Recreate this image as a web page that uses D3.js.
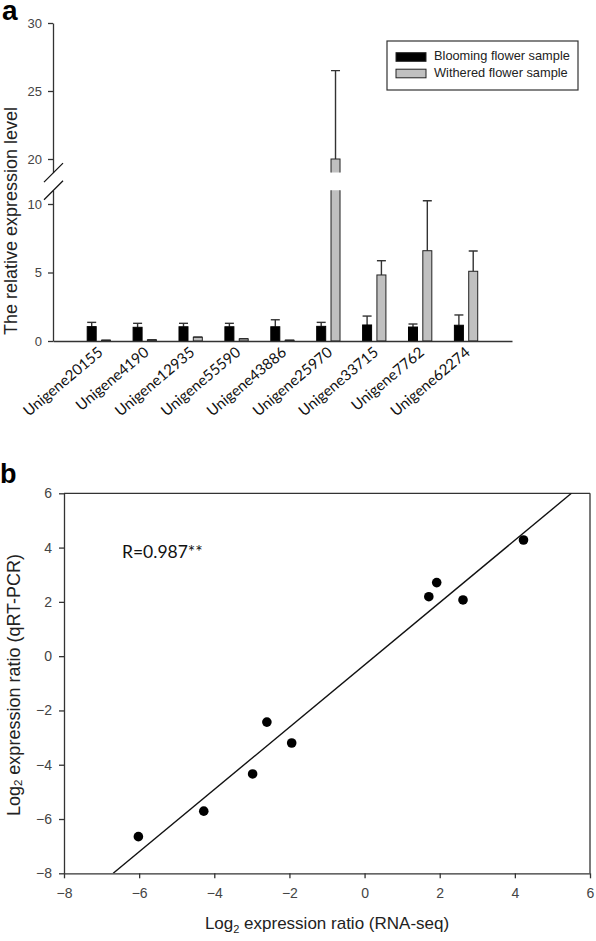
<!DOCTYPE html>
<html>
<head>
<meta charset="utf-8">
<script src="https://cdn.jsdelivr.net/npm/d3@7"></script>
<style>
  html, body { margin: 0; padding: 0; background: #fff; }
  svg { display: block; }
</style>
</head>
<body>
<svg id="chart" width="596" height="941"></svg>
<script>
// ---------- Panel a data ----------
const genes = ["Unigene20155","Unigene4190","Unigene12935","Unigene55590","Unigene43886","Unigene25970","Unigene33715","Unigene7762","Unigene62274"];
const blooming = [1.05, 1.00, 1.04, 1.04, 1.04, 1.07, 1.17, 1.02, 1.15];
const bloomingErr = [0.31, 0.29, 0.25, 0.25, 0.51, 0.29, 0.65, 0.22, 0.75];
const withered = [0.05, 0.08, 0.27, 0.15, 0.05, 20.0, 4.82, 6.59, 5.09];
const witheredErr = [0.01, 0.01, 0.02, 0.02, 0.01, 6.5, 1.04, 3.65, 1.48];
const seriesNames = ["Blooming flower sample", "Withered flower sample"];
const lowTicks = [0, 5, 10];
const highTicks = [20, 25, 30];

// ---------- Panel b data ----------
const rnaSeq = [-6.02, -4.28, -2.98, -2.60, -1.94, 1.71, 1.92, 2.62, 4.23];
const qrtPcr = [-6.65, -5.71, -4.34, -2.43, -3.20, 2.19, 2.71, 2.07, 4.28];
const fitSlope = 1.148;
const fitIntercept = -0.32;
const scatterTicks = [-8, -6, -4, -2, 0, 2, 4, 6];
const rLabel = "R=0.987**";

const svg = d3.select("#chart");
const axisColor = "#333";
const tickTextColor = "#444";

// =============== Panel a ===============
const gA = svg.append("g");
gA.append("text").attr("x", 2).attr("y", 20).text("a")
  .attr("font-family", "Liberation Sans, Arial, sans-serif").attr("font-weight", "bold").attr("font-size", 28).attr("fill", "#000");

const x = d3.scaleBand().domain(genes).range([53, 512]).paddingOuter(0.5).paddingInner(0);
const yLow = d3.scaleLinear().domain([0, 11]).range([341, 190.3]);
const yHigh = d3.scaleLinear().domain([19, 30]).range([172.6, 23]);

const defs = svg.append("defs");
defs.append("clipPath").attr("id", "clipLow").append("rect").attr("x", 0).attr("y", yLow(11)).attr("width", 596).attr("height", yLow(0) - yLow(11) + 5);
defs.append("clipPath").attr("id", "clipHigh").append("rect").attr("x", 0).attr("y", 0).attr("width", 596).attr("height", yHigh(19));

const step = x.step();
const barW = step * 0.196;
const offB = -step * 0.255;
const offW = step * 0.057;
const center = g => x(g) + x.bandwidth() / 2;

function drawBars(group, y) {
  const series = [
    {vals: blooming, errs: bloomingErr, off: offB, fill: "#000", stroke: "#000"},
    {vals: withered, errs: witheredErr, off: offW, fill: "#c0c0c0", stroke: "#222"}
  ];
  series.forEach(s => {
    const eb = group.append("g");
    genes.forEach((g, i) => {
      const cx = center(g) + s.off + barW / 2;
      const top = y(s.vals[i] + s.errs[i]);
      eb.append("line").attr("x1", cx).attr("x2", cx).attr("y1", y(s.vals[i])).attr("y2", top)
        .attr("stroke", "#333").attr("stroke-width", 1.4);
      eb.append("line").attr("x1", cx - barW / 2).attr("x2", cx + barW / 2).attr("y1", top).attr("y2", top)
        .attr("stroke", "#333").attr("stroke-width", 1.4);
    });
    group.append("g").selectAll("rect").data(genes).join("rect")
      .attr("x", g => center(g) + s.off)
      .attr("width", barW)
      .attr("y", (g, i) => y(s.vals[i]))
      .attr("height", (g, i) => Math.max(0, y(0) - y(s.vals[i])))
      .attr("fill", s.fill).attr("stroke", s.stroke).attr("stroke-width", 1);
  });
}
drawBars(gA.append("g").attr("clip-path", "url(#clipLow)"), yLow);
drawBars(gA.append("g").attr("clip-path", "url(#clipHigh)"), yHigh);

function styleAxis(g) {
  g.selectAll("path, line").attr("stroke", axisColor).attr("stroke-width", 1.3);
  g.selectAll("text").attr("fill", tickTextColor).attr("font-family", "Liberation Sans, Arial, sans-serif").attr("font-size", 13);
}
gA.append("g").attr("transform", "translate(53,0)")
  .call(d3.axisLeft(yLow).tickValues(lowTicks).tickSize(5).tickSizeOuter(0).tickPadding(6)).call(styleAxis);
gA.append("g").attr("transform", "translate(53,0)")
  .call(d3.axisLeft(yHigh).tickValues(highTicks).tickSize(5).tickSizeOuter(0).tickPadding(6)).call(styleAxis);
[yHigh(19), yLow(11)].forEach(yy => {
  gA.append("line").attr("x1", 44).attr("x2", 63).attr("y1", yy + 9.5).attr("y2", yy - 9.5)
    .attr("stroke", "#111").attr("stroke-width", 1.3);
});

const xAxisG = gA.append("g").attr("transform", `translate(0,${yLow(0)})`)
  .call(d3.axisBottom(x).tickSize(0).tickSizeOuter(0).tickPadding(0));
xAxisG.select(".domain").attr("stroke", axisColor).attr("stroke-width", 1.3);
xAxisG.selectAll("text")
  .attr("font-family", "Lato, 'Open Sans', sans-serif").attr("font-size", 15).attr("fill", "#111")
  .attr("text-anchor", "end").attr("dy", 0)
  .attr("transform", "translate(5,13) rotate(-40)");

gA.append("text").attr("transform", "translate(12,221) rotate(-90)")
  .attr("text-anchor", "middle").attr("dominant-baseline", "middle")
  .attr("font-family", "Liberation Sans, Arial, sans-serif").attr("font-size", 18).attr("fill", "#222")
  .text("The relative expression level");

const lg = gA.append("g");
lg.append("rect").attr("x", 387).attr("y", 41).attr("width", 191).attr("height", 49)
  .attr("fill", "#fff").attr("stroke", "#333").attr("stroke-width", 1.2);
const legFill = ["#000", "#c0c0c0"];
seriesNames.forEach((name, i) => {
  const yy = 57 + i * 16.5;
  lg.append("rect").attr("x", 396).attr("y", yy - 4.3).attr("width", 30).attr("height", 8.6)
    .attr("fill", legFill[i]).attr("stroke", "#222").attr("stroke-width", 1);
  lg.append("text").attr("x", 434).attr("y", yy).attr("dominant-baseline", "middle")
    .attr("font-family", "Liberation Sans, Arial, sans-serif").attr("font-size", 12.8).attr("fill", "#222")
    .text(name);
});

// =============== Panel b ===============
const gB = svg.append("g");
gB.append("text").attr("x", 0).attr("y", 483).text("b")
  .attr("font-family", "Liberation Sans, Arial, sans-serif").attr("font-weight", "bold").attr("font-size", 27).attr("fill", "#000");

const sx = d3.scaleLinear().domain([-8, 6]).range([64, 590]);
const sy = d3.scaleLinear().domain([-8, 6]).range([873.3, 493.3]);

gB.append("line").attr("x1", sx(-8)).attr("x2", sx(6)).attr("y1", sy(6)).attr("y2", sy(6)).attr("stroke", axisColor).attr("stroke-width", 1.3);
gB.append("line").attr("x1", sx(6)).attr("x2", sx(6)).attr("y1", sy(6)).attr("y2", sy(-8)).attr("stroke", axisColor).attr("stroke-width", 1.3);

function styleAxisB(g) {
  g.selectAll("path, line").attr("stroke", axisColor).attr("stroke-width", 1.3);
  g.selectAll("text").attr("fill", tickTextColor).attr("font-family", "Liberation Sans, Arial, sans-serif").attr("font-size", 14);
}
gB.append("g").attr("transform", `translate(0,${sy(-8)})`)
  .call(d3.axisBottom(sx).tickValues(scatterTicks).tickSize(5).tickSizeOuter(0).tickPadding(10)).call(styleAxisB);
gB.append("g").attr("transform", `translate(${sx(-8)},0)`)
  .call(d3.axisLeft(sy).tickValues(scatterTicks).tickSize(5).tickSizeOuter(0).tickPadding(7)).call(styleAxisB);

defs.append("clipPath").attr("id", "clipB").append("rect")
  .attr("x", sx(-8)).attr("y", sy(6)).attr("width", sx(6) - sx(-8)).attr("height", sy(-8) - sy(6));
const xa = (-8 - fitIntercept) / fitSlope, xb = (6 - fitIntercept) / fitSlope;
gB.append("line").attr("clip-path", "url(#clipB)")
  .attr("x1", sx(xa)).attr("y1", sy(fitSlope * xa + fitIntercept))
  .attr("x2", sx(xb)).attr("y2", sy(fitSlope * xb + fitIntercept))
  .attr("stroke", "#111").attr("stroke-width", 1.4);

gB.append("g").selectAll("circle").data(rnaSeq).join("circle")
  .attr("cx", d => sx(d)).attr("cy", (d, i) => sy(qrtPcr[i])).attr("r", 4.8).attr("fill", "#000");

gB.append("text").attr("x", 122).attr("y", 558).text(rLabel)
  .attr("font-family", "Lato, 'Open Sans', sans-serif").attr("font-size", 17.5).attr("fill", "#111");

const yt = gB.append("text").attr("transform", "translate(15,685) rotate(-90)")
  .attr("text-anchor", "middle").attr("dominant-baseline", "middle")
  .attr("font-family", "Liberation Sans, Arial, sans-serif").attr("font-size", 18).attr("fill", "#222");
yt.append("tspan").text("Log");
yt.append("tspan").attr("font-size", 11.5).attr("dy", 4).text("2");
yt.append("tspan").attr("dy", -4).text(" expression ratio (qRT-PCR)");

const xt = gB.append("text").attr("x", 327).attr("y", 929)
  .attr("text-anchor", "middle")
  .attr("font-family", "Liberation Sans, Arial, sans-serif").attr("font-size", 17).attr("fill", "#222");
xt.append("tspan").text("Log");
xt.append("tspan").attr("font-size", 11).attr("dy", 4).text("2");
xt.append("tspan").attr("dy", -4).text(" expression ratio (RNA-seq)");
</script>
</body>
</html>
